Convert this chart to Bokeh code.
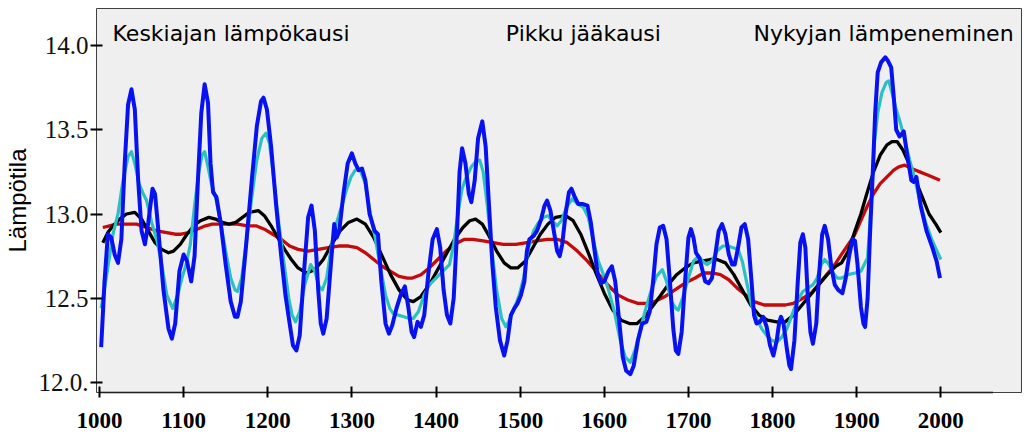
from bokeh.plotting import figure
from bokeh.models import Range1d, FixedTicker, Label, CustomJSTickFormatter
from bokeh.embed import file_html
from bokeh.resources import INLINE

# ---------------- data ----------------
blue_year = [1002, 1006, 1010, 1014, 1018, 1022, 1026, 1030, 1034, 1038, 1042, 1046, 1050, 1054, 1058,
             1063, 1066, 1070, 1076, 1082, 1086, 1090, 1095, 1100, 1104, 1109, 1113, 1117, 1121, 1125,
             1129, 1132, 1135, 1139, 1144, 1150, 1156, 1161, 1164, 1168, 1174, 1181, 1187, 1192, 1195,
             1199, 1204, 1210, 1216, 1221, 1226, 1230, 1234, 1238, 1243, 1248, 1252, 1256, 1260, 1263,
             1266, 1270, 1275, 1279, 1282, 1285, 1290, 1295, 1300, 1304, 1308, 1312, 1316, 1321, 1327,
             1331, 1335, 1340, 1344, 1348, 1353, 1358, 1363, 1367, 1371, 1374, 1378, 1382, 1386, 1391,
             1396, 1401, 1405, 1409, 1413, 1417, 1421, 1425, 1428, 1431, 1435, 1439, 1442, 1446, 1450,
             1455, 1459, 1463, 1467, 1471, 1476, 1481, 1485, 1489, 1493, 1497, 1501, 1505, 1508, 1511,
             1516, 1520, 1525, 1529, 1532, 1536, 1540, 1544, 1547, 1550, 1554, 1558, 1561, 1565, 1569,
             1574, 1580, 1584, 1588, 1592, 1596, 1600, 1605, 1609, 1613, 1618, 1622, 1626, 1631, 1635,
             1640, 1645, 1650, 1654, 1658, 1662, 1666, 1670, 1674, 1678, 1682, 1685, 1688, 1692, 1696,
             1700, 1703, 1706, 1709, 1713, 1716, 1720, 1724, 1728, 1732, 1736, 1740, 1744, 1748, 1752,
             1755, 1759, 1763, 1767, 1771, 1775, 1778, 1781, 1785, 1789, 1793, 1797, 1801, 1805, 1808,
             1810, 1813, 1817, 1820, 1822, 1826, 1830, 1833, 1836, 1839, 1842, 1845, 1848, 1852, 1855,
             1859, 1862, 1866, 1870, 1874, 1878, 1883, 1887, 1891, 1895, 1898, 1901, 1905, 1908, 1910,
             1913, 1916, 1919, 1922, 1925, 1929, 1934, 1937, 1941, 1944, 1947, 1951, 1956, 1960, 1965,
             1968, 1971, 1976, 1983, 1990, 1995, 1999]
blue_temp = [12.21, 12.60, 12.88, 12.86, 12.76, 12.71, 12.85, 13.30, 13.65, 13.74, 13.62, 13.20, 12.90, 12.82, 12.95,
             13.15, 13.12, 12.90, 12.55, 12.32, 12.26, 12.35, 12.66, 12.76, 12.72, 12.60, 12.75, 13.20, 13.60, 13.77,
             13.66, 13.30, 13.13, 13.10, 12.95, 12.70, 12.48, 12.39, 12.39, 12.48, 12.80, 13.20, 13.52, 13.67, 13.69,
             13.62, 13.40, 13.05, 12.75, 12.52, 12.35, 12.22, 12.19, 12.28, 12.65, 12.98, 13.05, 12.90, 12.55, 12.35,
             12.29, 12.38, 12.70, 12.94, 12.86, 12.90, 13.12, 13.30, 13.36, 13.30, 13.26, 13.27, 13.20, 13.00, 12.90,
             12.88, 12.60, 12.35, 12.29, 12.34, 12.44, 12.52, 12.57, 12.45, 12.30, 12.27, 12.36, 12.33, 12.40, 12.65,
             12.85, 12.91, 12.80, 12.55, 12.40, 12.35, 12.50, 12.90, 13.25, 13.39, 13.30, 13.12, 13.07, 13.20, 13.45,
             13.55, 13.40, 13.05, 12.70, 12.45, 12.25, 12.16, 12.25, 12.40, 12.44, 12.47, 12.52, 12.60, 12.78, 12.85,
             12.87, 12.90, 12.97, 13.05, 13.08, 13.02, 12.90, 12.78, 12.75, 12.82, 13.00, 13.13, 13.15, 13.10, 13.06,
             13.06, 13.05, 12.95, 12.80, 12.65, 12.59, 12.60, 12.66, 12.69, 12.60, 12.35, 12.15, 12.07, 12.05, 12.10,
             12.25, 12.35, 12.36, 12.42, 12.60, 12.82, 12.92, 12.93, 12.85, 12.60, 12.32, 12.19, 12.17, 12.30, 12.60,
             12.86, 12.91, 12.86, 12.77, 12.74, 12.68, 12.60, 12.59, 12.62, 12.76, 12.90, 12.94, 12.88, 12.76, 12.70,
             12.70, 12.80, 12.92, 12.94, 12.85, 12.60, 12.40, 12.35, 12.36, 12.39, 12.33, 12.22, 12.16, 12.25, 12.36,
             12.39, 12.35, 12.20, 12.10, 12.08, 12.25, 12.60, 12.83, 12.88, 12.80, 12.50, 12.30, 12.23, 12.35, 12.62,
             12.88, 12.93, 12.85, 12.68, 12.58, 12.55, 12.53, 12.62, 12.75, 12.85, 12.84, 12.70, 12.45, 12.35, 12.33,
             12.50, 12.90, 13.23, 13.60, 13.84, 13.90, 13.93, 13.91, 13.87, 13.70, 13.50, 13.46, 13.49, 13.35, 13.20,
             13.19, 13.22, 13.05, 12.90, 12.80, 12.72, 12.62]

cyan_year = [1002, 1008, 1016, 1022, 1028, 1034, 1038, 1042, 1047, 1052, 1056, 1062, 1068, 1074, 1080,
             1087, 1093, 1098, 1103, 1108, 1113, 1118, 1122, 1125, 1129, 1133, 1138, 1144, 1150, 1156,
             1161, 1164, 1169, 1175, 1181, 1187, 1193, 1198, 1202, 1207, 1213, 1219, 1225, 1229, 1233,
             1238, 1244, 1251, 1256, 1261, 1265, 1270, 1276, 1282, 1288, 1294, 1299, 1304, 1310, 1316,
             1322, 1328, 1334, 1340, 1345, 1349, 1355, 1362, 1368, 1373, 1379, 1386, 1392, 1400, 1408,
             1416, 1421, 1426, 1431, 1436, 1442, 1447, 1452, 1456, 1461, 1466, 1472, 1478, 1483, 1488,
             1493, 1499, 1504, 1510, 1516, 1522, 1528, 1533, 1538, 1544, 1549, 1555, 1562, 1568, 1575,
             1581, 1587, 1593, 1599, 1605, 1612, 1619, 1625, 1631, 1637, 1643, 1650, 1656, 1662, 1669,
             1674, 1680, 1685, 1688, 1693, 1700, 1706, 1712, 1717, 1722, 1728, 1734, 1741, 1747, 1753,
             1759, 1764, 1769, 1775, 1781, 1787, 1793, 1799, 1805, 1811, 1817, 1823, 1829, 1836, 1842,
             1848, 1853, 1858, 1862, 1867, 1872, 1877, 1882, 1890, 1898, 1905, 1909, 1913, 1917, 1921,
             1925, 1930, 1935, 1938, 1942, 1947, 1952, 1958, 1963, 1968, 1975, 1982, 1990, 2000]
cyan_temp = [12.44, 12.62, 12.88, 13.00, 13.20, 13.34, 13.37, 13.30, 13.18, 13.12, 13.08, 12.95, 12.85, 12.70, 12.52,
             12.44, 12.52, 12.62, 12.70, 12.82, 13.05, 13.25, 13.35, 13.37, 13.28, 13.18, 13.10, 12.95, 12.78, 12.62,
             12.55, 12.54, 12.62, 12.85, 13.10, 13.32, 13.45, 13.48, 13.42, 13.22, 12.95, 12.72, 12.50, 12.40, 12.36,
             12.42, 12.58, 12.70, 12.66, 12.57, 12.55, 12.62, 12.82, 12.95, 13.05, 13.15, 13.22, 13.26, 13.26, 13.18,
             13.00, 12.85, 12.68, 12.52, 12.44, 12.41, 12.40, 12.39, 12.38, 12.38, 12.42, 12.52, 12.58, 12.62, 12.66,
             12.70, 12.82, 13.00, 13.15, 13.22, 13.28, 13.31, 13.32, 13.25, 13.05, 12.80, 12.55, 12.38, 12.33, 12.38,
             12.44, 12.52, 12.62, 12.80, 12.90, 12.95, 12.98, 12.99, 12.96, 12.93, 12.96, 13.04, 13.09, 13.06, 13.04,
             12.98, 12.84, 12.72, 12.64, 12.55, 12.42, 12.25, 12.15, 12.12, 12.20, 12.32, 12.45, 12.55, 12.63, 12.67,
             12.60, 12.48, 12.44, 12.43, 12.50, 12.62, 12.72, 12.75, 12.72, 12.70, 12.72, 12.78, 12.81, 12.81, 12.80,
             12.79, 12.72, 12.60, 12.46, 12.38, 12.32, 12.28, 12.25, 12.24, 12.27, 12.32, 12.40, 12.48, 12.54, 12.56,
             12.58, 12.62, 12.70, 12.73, 12.70, 12.65, 12.62, 12.62, 12.64, 12.65, 12.66, 12.70, 12.74, 13.05, 13.42,
             13.60, 13.72, 13.78, 13.79, 13.72, 13.62, 13.54, 13.42, 13.32, 13.23, 13.08, 12.95, 12.84, 12.73]

black_year = [1004, 1010, 1016, 1024, 1032, 1042, 1050, 1058, 1066, 1074, 1082, 1088, 1096, 1104, 1112,
              1120, 1130, 1138, 1146, 1154, 1162, 1170, 1178, 1189, 1196, 1204, 1212, 1220, 1228, 1236,
              1246, 1256, 1266, 1276, 1286, 1296, 1306, 1316, 1326, 1336, 1346, 1356, 1366, 1373, 1382,
              1392, 1402, 1412, 1422, 1432, 1440, 1447, 1455, 1463, 1472, 1481, 1489, 1497, 1506, 1515,
              1524, 1533, 1542, 1554, 1563, 1572, 1581, 1590, 1600, 1610, 1620, 1630, 1639, 1648, 1657,
              1666, 1676, 1686, 1696, 1706, 1716, 1726, 1734, 1744, 1754, 1764, 1774, 1784, 1794, 1805,
              1815, 1825, 1835, 1845, 1855, 1865, 1875, 1882, 1890, 1898, 1905, 1912, 1920, 1928, 1936,
              1942, 1948, 1955, 1962, 1970, 1978, 1986, 1994, 2000]
black_temp = [12.83, 12.89, 12.93, 12.97, 13.00, 13.01, 12.97, 12.90, 12.83, 12.79, 12.77, 12.78, 12.82, 12.88, 12.93,
              12.96, 12.98, 12.97, 12.95, 12.94, 12.95, 12.98, 13.01, 13.02, 12.99, 12.93, 12.86, 12.79, 12.73, 12.68,
              12.65, 12.67, 12.73, 12.82, 12.90, 12.95, 12.97, 12.94, 12.86, 12.75, 12.64, 12.55, 12.49, 12.48, 12.51,
              12.58, 12.67, 12.76, 12.85, 12.92, 12.96, 12.97, 12.94, 12.87, 12.78, 12.71, 12.68, 12.68, 12.72, 12.80,
              12.88, 12.94, 12.98, 12.99, 12.96, 12.88, 12.77, 12.65, 12.53, 12.43, 12.37, 12.35, 12.35, 12.39, 12.45,
              12.51, 12.58, 12.64, 12.68, 12.71, 12.72, 12.73, 12.73, 12.71, 12.64, 12.55, 12.46, 12.40, 12.37, 12.36,
              12.36, 12.40, 12.46, 12.52, 12.58, 12.64, 12.69, 12.71, 12.78, 12.90, 13.00, 13.12, 13.25, 13.35, 13.41,
              13.43, 13.43, 13.38, 13.30, 13.20, 13.10, 13.00, 12.94, 12.89]

red_year = [1004, 1012, 1020, 1030, 1044, 1056, 1068, 1080, 1090, 1097, 1106, 1116, 1126, 1134, 1142,
            1152, 1164, 1176, 1186, 1196, 1206, 1216, 1226, 1236, 1248, 1260, 1272, 1284, 1296, 1306,
            1316, 1326, 1336, 1346, 1356, 1366, 1372, 1382, 1392, 1402, 1412, 1422, 1434, 1444, 1456,
            1468, 1480, 1495, 1508, 1520, 1532, 1544, 1556, 1568, 1580, 1592, 1604, 1616, 1628, 1640,
            1650, 1660, 1672, 1684, 1696, 1708, 1718, 1728, 1738, 1748, 1758, 1768, 1778, 1790, 1802,
            1815, 1825, 1836, 1846, 1856, 1866, 1874, 1882, 1890, 1897, 1904, 1912, 1920, 1928, 1936,
            1944, 1950, 1957, 1965, 1975, 1985, 1999]
red_temp = [12.92, 12.93, 12.94, 12.94, 12.94, 12.92, 12.90, 12.89, 12.88, 12.88, 12.89, 12.91, 12.93, 12.94, 12.94,
            12.94, 12.94, 12.93, 12.93, 12.91, 12.88, 12.85, 12.81, 12.79, 12.78, 12.79, 12.80, 12.81, 12.81, 12.80,
            12.77, 12.73, 12.69, 12.66, 12.63, 12.62, 12.62, 12.64, 12.68, 12.73, 12.78, 12.82, 12.85, 12.85, 12.84,
            12.83, 12.82, 12.82, 12.83, 12.84, 12.85, 12.85, 12.83, 12.78, 12.72, 12.65, 12.58, 12.52, 12.49, 12.47,
            12.47, 12.48, 12.51, 12.55, 12.59, 12.62, 12.65, 12.65, 12.64, 12.61, 12.56, 12.52, 12.48, 12.46, 12.46,
            12.46, 12.47, 12.50, 12.53, 12.59, 12.65, 12.70, 12.76, 12.82, 12.87, 12.95, 13.04, 13.12, 13.18, 13.22,
            13.26, 13.28, 13.29, 13.27, 13.25, 13.23, 13.20]

x_ticks = [1000, 1100, 1200, 1300, 1400, 1500, 1600, 1700, 1800, 1900, 2000]
y_ticks = [12.0, 12.5, 13.0, 13.5, 14.0]
period_labels = ["Keskiajan lämpökausi", "Pikku jääkausi", "Nykyjan lämpeneminen"]
period_start = [1015.5, 1483, 1777.5]
y_title = "Lämpötila"

# ---------------- figure ----------------
p = figure(width=1024, height=439, output_backend="svg", toolbar_location=None,
           x_range=Range1d(996.45, 2095.9), y_range=Range1d(11.9407, 14.2196),
           min_border_left=92, min_border_right=3, min_border_top=8, min_border_bottom=47)
p.background_fill_color = "#efefef"
p.border_fill_color = "white"
p.outline_line_color = "#404040"
p.outline_line_width = 1
p.grid.visible = False

p.line(red_year, red_temp, line_color="#c40a0a", line_width=3.3, line_join="round")
p.line(black_year, black_temp, line_color="black", line_width=3.3, line_join="round")
p.line(cyan_year, cyan_temp, line_color="#2cc0c0", line_width=3.2, line_join="round")
p.line(blue_year, blue_temp, line_color="#0812f0", line_width=4, line_join="round")

# y axis
ya = p.yaxis[0]
ya.ticker = FixedTicker(ticks=y_ticks)
ya.formatter = CustomJSTickFormatter(code="return tick == 12 ? '12.0.' : tick.toFixed(1);")
ya.axis_line_color = None
ya.major_tick_in = 6
ya.major_tick_out = 6
ya.major_tick_line_width = 2
ya.major_tick_line_color = "black"
ya.minor_tick_line_color = None
ya.major_label_text_font = "Liberation Serif"
ya.major_label_text_font_size = "25px"
ya.major_label_text_color = "#111111"
ya.major_label_standoff = 2
ya.axis_label = y_title
ya.axis_label_text_font = "Liberation Sans"
ya.axis_label_text_font_style = "normal"
ya.axis_label_text_font_size = "24px"
ya.axis_label_text_color = "black"
ya.axis_label_standoff = 5

# x axis
xa = p.xaxis[0]
xa.ticker = FixedTicker(ticks=x_ticks)
xa.bounds = (1000, 2063)
xa.axis_line_color = "black"
xa.axis_line_width = 2
xa.axis_line_dash = "1 1"
xa.major_tick_in = 6
xa.major_tick_out = 5
xa.major_tick_line_width = 2
xa.major_tick_line_color = "black"
xa.minor_tick_line_color = None
xa.major_label_text_font = "Liberation Serif"
xa.major_label_text_font_style = "bold"
xa.major_label_text_font_size = "23px"
xa.major_label_text_color = "black"
xa.major_label_standoff = 15

for txt, x0 in zip(period_labels, period_start):
    p.add_layout(Label(x=x0, y=14.071, text=txt, text_font="DejaVu Sans", text_font_size="22px",
                       text_color="black", text_baseline="alphabetic", text_align="left"))

open("out.html", "w").write(file_html(p, INLINE))
